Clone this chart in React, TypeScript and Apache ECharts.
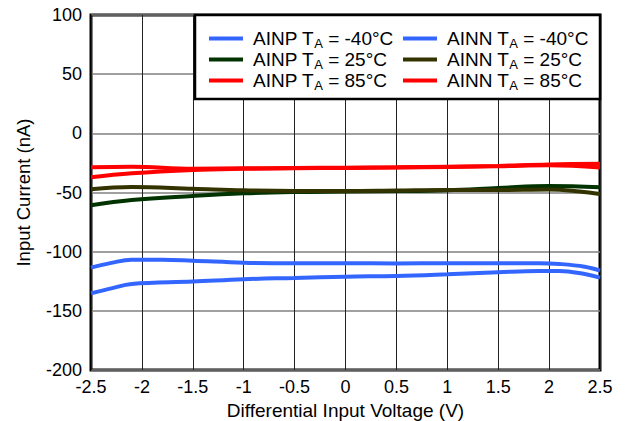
import React, { useEffect, useRef } from "react";
import * as echarts from "echarts";

const xTicks = [-2.5, -2.0, -1.5, -1.0, -0.5, 0, 0.5, 1.0, 1.5, 2.0, 2.5];

const ainpM40X = [-2.5, -2.3, -2.1, -1.8, -1.5, -1.0, -0.5, 0, 0.5, 1.0, 1.5, 1.9, 2.1, 2.35, 2.5];
const ainpM40Y = [-113.5, -109.5, -106.8, -106.8, -107.6, -109.3, -109.8, -109.8, -109.9, -109.8, -109.8, -109.8, -110.4, -112.7, -116];

const ainnM40X = [-2.5, -2.3, -2.1, -1.5, -1.0, -0.5, 0, 0.5, 1.0, 1.5, 1.9, 2.1, 2.35, 2.5];
const ainnM40Y = [-135.2, -131, -127.3, -125.3, -123.3, -122.2, -121.1, -120.5, -119.1, -117.4, -116.3, -116.3, -118.9, -122];

const ainp25X = [-2.5, -2.1, -1.5, -1.0, -0.5, 0, 0.5, 1.0, 1.5, 2.0, 2.5];
const ainp25Y = [-60.8, -56.3, -52.9, -50.7, -49.6, -49.2, -48.8, -48.0, -46.2, -44.5, -45.6];

const ainn25X = [-2.5, -2.1, -1.5, -1.0, -0.5, 0, 0.5, 1.0, 1.5, 2.0, 2.3, 2.5];
const ainn25Y = [-47.3, -45.3, -46.8, -48.2, -48.7, -48.7, -48.3, -47.9, -47.9, -47.5, -49.2, -51.3];

const ainp85X = [-2.5, -2.1, -1.5, -1.0, -0.5, 0, 0.5, 1.0, 1.5, 2.0, 2.5];
const ainp85Y = [-28.7, -28.2, -29.9, -29.6, -29.3, -29.0, -28.7, -28.2, -27.8, -27.0, -28.8];

const ainn85X = [-2.5, -2.1, -1.5, -1.0, -0.5, 0, 0.5, 1.0, 1.5, 2.0, 2.5];
const ainn85Y = [-37.2, -33.8, -31.0, -30.0, -29.5, -29.2, -28.8, -28.4, -27.5, -26.3, -25.8];

const seriesNames = ["AINP -40", "AINN -40", "AINP 25", "AINN 25", "AINP 85", "AINN 85"];
const legendLabels = [
  "AINP T{sub|A} = -40°C",
  "AINN T{sub|A} = -40°C",
  "AINP T{sub|A} = 25°C",
  "AINN T{sub|A} = 25°C",
  "AINP T{sub|A} = 85°C",
  "AINN T{sub|A} = 85°C",
];
const colors = ["#3366FF", "#3366FF", "#003300", "#333300", "#FF0000", "#FF0000"];

const FONT = "'Liberation Sans', Arial, sans-serif";

function zip(xs: number[], ys: number[]) {
  return xs.map((x, i) => [x, ys[i]]);
}

export default function App() {
  const ref = useRef<HTMLDivElement>(null);
  useEffect(() => {
    if (!ref.current) return;
    const chart = echarts.init(ref.current, undefined, { renderer: "svg" });
    const dataSets = [
      zip(ainpM40X, ainpM40Y),
      zip(ainnM40X, ainnM40Y),
      zip(ainp25X, ainp25Y),
      zip(ainn25X, ainn25Y),
      zip(ainp85X, ainp85Y),
      zip(ainn85X, ainn85Y),
    ];
    const legendPos = [
      { left: 209, top: 29 },
      { left: 403, top: 29 },
      { left: 209, top: 50 },
      { left: 403, top: 50 },
      { left: 209, top: 71 },
      { left: 403, top: 71 },
    ];
    const legends = seriesNames.map((n, i) => ({
      data: [n],
      left: legendPos[i].left,
      top: legendPos[i].top,
      padding: 0,
      itemWidth: 34,
      itemHeight: 4,
      icon: "rect",
      selectedMode: false,
      z: 10,
      formatter: () => legendLabels[i],
      textStyle: {
        fontFamily: FONT,
        fontSize: 19,
        color: "#000",
        padding: [0, 0, 0, 5],
        rich: {
          sub: { fontFamily: FONT, fontSize: 13, color: "#000", padding: [9, 0, 0, 0] },
        },
      },
    }));
    chart.setOption({
      animation: false,
      backgroundColor: "#fff",
      grid: {
        left: 91,
        right: 26,
        top: 15,
        bottom: 51,
        show: true,
        borderColor: "#000",
        borderWidth: 3,
        containLabel: false,
        outerBoundsMode: "none",
      },
      legend: legends,
      graphic: [
        {
          type: "rect",
          z: 5,
          shape: { x: 195, y: 15, width: 405, height: 84 },
          style: { fill: "#fff", stroke: "#000", lineWidth: 2.5 },
        },
      ],
      xAxis: {
        type: "value",
        min: -2.5,
        max: 2.5,
        interval: 0.5,
        name: "Differential Input Voltage (V)",
        nameLocation: "middle",
        nameGap: 29,
        nameTextStyle: { fontFamily: FONT, fontSize: 19, color: "#000" },
        axisLine: { show: false },
        axisTick: { show: false },
        axisLabel: {
          margin: 8,
          fontFamily: FONT,
          fontSize: 18,
          color: "#000",
          formatter: (v: number) => String(v),
        },
        splitLine: { show: true, lineStyle: { color: "#222", width: 1 } },
      },
      yAxis: {
        type: "value",
        min: -200,
        max: 100,
        interval: 50,
        name: "Input Current (nA)",
        nameLocation: "middle",
        nameGap: 58,
        nameTextStyle: { fontFamily: FONT, fontSize: 18.5, color: "#000" },
        axisLine: { show: false },
        axisTick: { show: false },
        axisLabel: { margin: 9, fontFamily: FONT, fontSize: 18, color: "#000" },
        splitLine: { show: true, lineStyle: { color: "#808080", width: 1.5 } },
      },
      series: seriesNames.map((n, i) => ({
        name: n,
        type: "line",
        data: dataSets[i],
        smooth: 0.4,
        showSymbol: false,
        symbol: "none",
        clip: true,
        color: colors[i],
        lineStyle: { color: colors[i], width: 4 },
      })),
    });
    return () => chart.dispose();
  }, []);
  return (
    <div
      ref={ref}
      style={{ position: "fixed", left: 0, top: 0, width: 626, height: 421 }}
    />
  );
}
